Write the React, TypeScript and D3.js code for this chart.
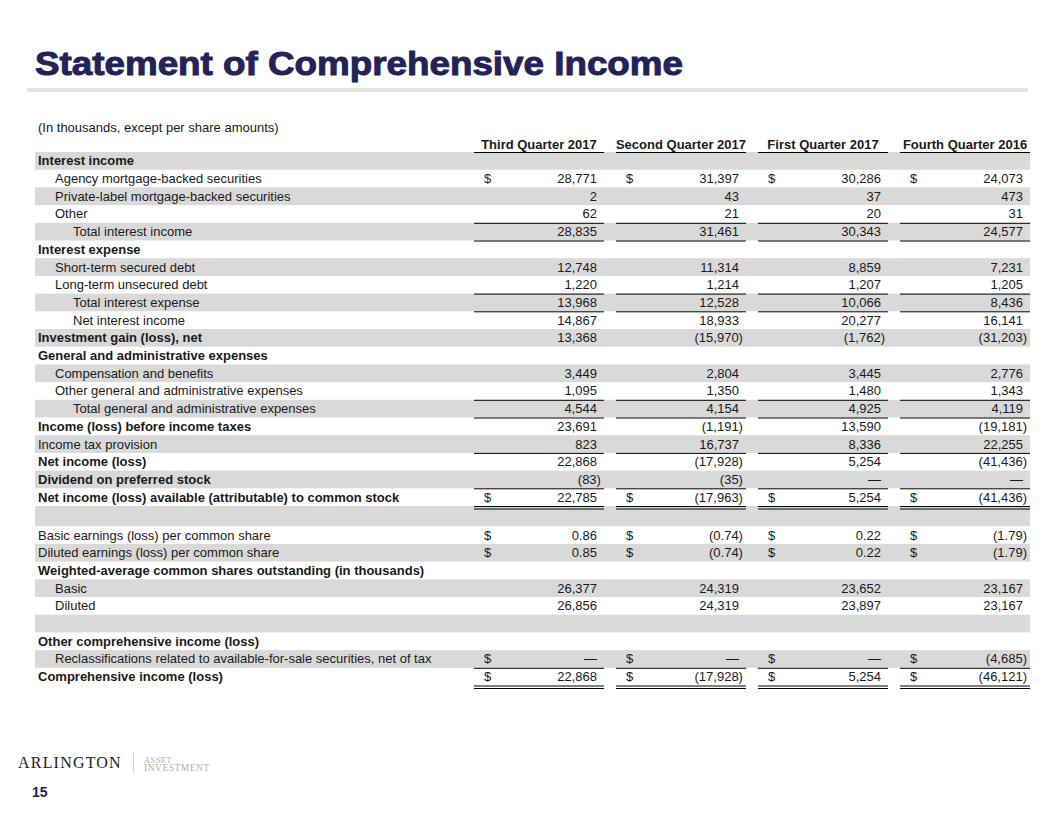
import React from "react";
import * as d3 from "d3";

const quarters = ["Third Quarter 2017", "Second Quarter 2017", "First Quarter 2017", "Fourth Quarter 2016"];

const rowLabels = [
  "Interest income",
  "Agency mortgage-backed securities",
  "Private-label mortgage-backed securities",
  "Other",
  "Total interest income",
  "Interest expense",
  "Short-term secured debt",
  "Long-term unsecured debt",
  "Total interest expense",
  "Net interest income",
  "Investment gain (loss), net",
  "General and administrative expenses",
  "Compensation and benefits",
  "Other general and administrative expenses",
  "Total general and administrative expenses",
  "Income (loss) before income taxes",
  "Income tax provision",
  "Net income (loss)",
  "Dividend on preferred stock",
  "Net income (loss) available (attributable) to common stock",
  "",
  "Basic earnings (loss) per common share",
  "Diluted earnings (loss) per common share",
  "Weighted-average common shares outstanding (in thousands)",
  "Basic",
  "Diluted",
  "",
  "Other comprehensive income (loss)",
  "Reclassifications related to available-for-sale securities, net of tax",
  "Comprehensive income (loss)",
];

// indent level: 0,1,2
const rowIndent = [0, 1, 1, 1, 2, 0, 1, 1, 2, 2, 0, 0, 1, 1, 2, 0, 0, 0, 0, 0, 0, 0, 0, 0, 1, 1, 0, 0, 1, 0];
const rowBold = [1, 0, 0, 0, 0, 1, 0, 0, 0, 0, 1, 1, 0, 0, 0, 1, 0, 1, 1, 1, 0, 0, 0, 1, 0, 0, 0, 1, 0, 1];
const rowDollar = [0, 1, 0, 0, 0, 0, 0, 0, 0, 0, 0, 0, 0, 0, 0, 0, 0, 0, 0, 1, 0, 1, 1, 0, 0, 0, 0, 0, 1, 1];
// rule under row: 0 none, 1 single, 2 double
const rowRule = [0, 0, 0, 1, 1, 0, 0, 1, 1, 0, 0, 0, 0, 1, 1, 0, 1, 0, 1, 2, 0, 0, 0, 0, 0, 0, 0, 0, 1, 2];
const rowDecimals = [0, 0, 0, 0, 0, 0, 0, 0, 0, 0, 0, 0, 0, 0, 0, 0, 0, 0, 0, 0, 0, 2, 2, 0, 0, 0, 0, 0, 0, 0];

const q3_2017: (number | null)[] = [null, 28771, 2, 62, 28835, null, 12748, 1220, 13968, 14867, 13368, null, 3449, 1095, 4544, 23691, 823, 22868, -83, 22785, null, 0.86, 0.85, null, 26377, 26856, null, null, 0, 22868];
const q2_2017: (number | null)[] = [null, 31397, 43, 21, 31461, null, 11314, 1214, 12528, 18933, -15970, null, 2804, 1350, 4154, -1191, 16737, -17928, -35, -17963, null, -0.74, -0.74, null, 24319, 24319, null, null, 0, -17928];
const q1_2017: (number | null)[] = [null, 30286, 37, 20, 30343, null, 8859, 1207, 10066, 20277, -1762, null, 3445, 1480, 4925, 13590, 8336, 5254, 0, 5254, null, 0.22, 0.22, null, 23652, 23897, null, null, 0, 5254];
const q4_2016: (number | null)[] = [null, 24073, 473, 31, 24577, null, 7231, 1205, 8436, 16141, -31203, null, 2776, 1343, 4119, -19181, 22255, -41436, 0, -41436, null, -1.79, -1.79, null, 23167, 23167, null, null, -4685, -46121];

const series = [q3_2017, q2_2017, q1_2017, q4_2016];

const NAVY = "#23235a";
const TXT = "#1a1a1a";
const FONT = "Arial, 'Liberation Sans', Helvetica, sans-serif";

export default function App() {
  const W = 1056;
  const H = 816;
  const nRows = rowLabels.length;
  const rowH = 17.7;
  const top = 152;
  const yLin = d3.scaleLinear().domain([0, nRows]).range([top, top + nRows * rowH]);
  // the blank spacer row after the income section is slightly taller
  const y = (i: number) => yLin(i) + (i > 20 ? 2.5 : 0);
  const hOf = (i: number) => y(i + 1) - y(i);
  const x = d3.scaleBand<string>().domain(quarters).range([474, 1030]).paddingInner(0.085).paddingOuter(0);
  const bw = x.bandwidth();
  const indentX = [38, 55, 73];
  const fmtInt = d3.format(",");
  const fmtDec = d3.format(".2f");

  const fmt = (v: number, dec: number) => {
    if (v === 0) return "\u2014";
    const s = dec ? fmtDec(Math.abs(v)) : fmtInt(Math.abs(v));
    return v < 0 ? `(${s})` : s;
  };

  return (
    <svg
      width={W}
      height={H}
      style={{ position: "absolute", left: 0, top: 0, background: "#fff" }}
      fontFamily={FONT}
    >
      <rect x={0} y={0} width={W} height={H} fill="#fff" />
      {/* Title */}
      <text
        x={35}
        y={75}
        fontSize={34}
        fontWeight="bold"
        fill={NAVY}
        stroke={NAVY}
        strokeWidth={1}
        textLength={648}
        lengthAdjust="spacingAndGlyphs"
      >
        Statement of Comprehensive Income
      </text>
      <rect x={27} y={88} width={1001} height={4} fill="#e4e4e4" />

      <text x={38} y={132} fontSize={13} fill={TXT}>
        (In thousands, except per share amounts)
      </text>

      {/* shaded bands */}
      {rowLabels.map((_, i) =>
        i % 2 === 0 ? (
          <rect key={"b" + i} x={35} y={y(i)} width={995} height={hOf(i)} fill="#d9d9d9" />
        ) : null
      )}

      {/* headers */}
      {quarters.map((q) => (
        <g key={q}>
          <text x={(x(q) as number) + bw / 2} y={148.5} fontSize={13} fontWeight="bold" textAnchor="middle" fill={TXT}>
            {q}
          </text>
          <line x1={x(q)} x2={(x(q) as number) + bw} y1={top + 0.5} y2={top + 0.5} stroke="#000" strokeWidth={1} />
        </g>
      ))}

      {/* rows */}
      {rowLabels.map((lab, i) => {
        const base = y(i + 1) - 4.4;
        return (
          <g key={"r" + i}>
            {lab && (
              <text x={indentX[rowIndent[i]]} y={base} fontSize={13} fontWeight={rowBold[i] ? "bold" : "normal"} fill={TXT}>
                {lab}
              </text>
            )}
            {quarters.map((q, c) => {
              const v = series[c][i];
              const x0 = x(q) as number;
              const x1 = x0 + bw;
              const rule = rowRule[i];
              return (
                <g key={q}>
                  {rowDollar[i] ? (
                    <text x={x0 + 10} y={base} fontSize={13} fill={TXT}>
                      $
                    </text>
                  ) : null}
                  {v !== null ? (
                    <text
                      x={v < 0 ? x1 - 3 : x1 - 7}
                      y={base}
                      fontSize={13}
                      textAnchor="end"
                      fill={TXT}
                    >
                      {fmt(v, rowDecimals[i])}
                    </text>
                  ) : null}
                  {rule >= 1 ? (
                    <line x1={x0} x2={x1} y1={y(i + 1) + 0.5} y2={y(i + 1) + 0.5} stroke="#000" strokeWidth={1} />
                  ) : null}
                  {rule === 2 ? (
                    <line x1={x0} x2={x1} y1={y(i + 1) + 3} y2={y(i + 1) + 3} stroke="#000" strokeWidth={1} />
                  ) : null}
                </g>
              );
            })}
          </g>
        );
      })}

      {/* footer logo */}
      <text x={18} y={768} fontSize={16} fontFamily="'Liberation Serif', 'DejaVu Serif', serif" fill="#222" letterSpacing={1.2}>
        ARLINGTON
      </text>
      <line x1={133.5} x2={133.5} y1={753} y2={773} stroke="#d0d0d0" strokeWidth={1} />
      <text x={144} y={763} fontSize={8.5} fontFamily="'Liberation Serif', 'DejaVu Serif', serif" fill="#b0b0b0" letterSpacing={0.4}>
        ASSET
      </text>
      <text x={144} y={771} fontSize={9.5} fontFamily="'Liberation Serif', 'DejaVu Serif', serif" fill="#b0b0b0" letterSpacing={0.5}>
        INVESTMENT
      </text>
      <text x={32} y={797} fontSize={14} fontWeight="bold" fill={NAVY}>
        15
      </text>
    </svg>
  );
}
